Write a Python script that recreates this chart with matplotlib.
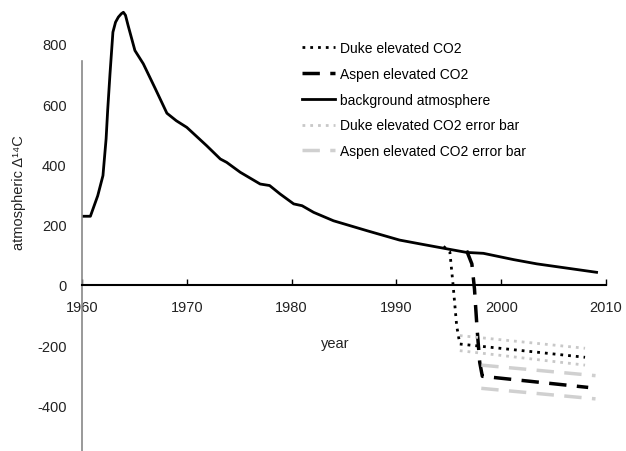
import matplotlib
matplotlib.use("Agg")
import matplotlib.pyplot as plt

plt.rcParams["font.family"] = ["Liberation Sans", "DejaVu Sans"]
plt.rcParams["axes.unicode_minus"] = False

# background atmosphere
bg_years = [1960, 1960.8, 1961.5, 1962.0, 1962.3, 1962.45, 1962.67, 1962.95, 1963.2,
            1963.47, 1963.75, 1963.95, 1964.15, 1964.4, 1965.05, 1965.85, 1967.0,
            1968.1, 1969.0, 1970.0, 1971.9, 1973.2, 1973.8, 1975.1, 1977.0, 1977.9,
            1978.9, 1980.2, 1981.0, 1982.1, 1984.0, 1987.2, 1990.3, 1992.3, 1994.8,
            1996.7, 1998.3, 2001.2, 2003.4, 2009.1]
bg_vals = [228, 228, 296, 363, 485, 580, 700, 839, 872,
           889, 900, 905, 895, 861, 778, 734, 651,
           570, 545, 523, 462, 418, 407, 374, 335, 330,
           302, 269, 263, 241, 213, 180, 149, 136, 120,
           108, 105, 84, 70, 42]

# Duke elevated CO2
duke_years = [1994.5, 1995.1, 1995.4, 1995.75, 1996.05, 2008.0]
duke_vals = [128, 110, 3, -135, -196, -240]
duke_err_years = [1996.05, 2008.0]
duke_err_hi = [-168, -210]
duke_err_lo = [-218, -266]

# Aspen elevated CO2
aspen_years = [1996.7, 1997.2, 1997.45, 1997.7, 1997.95, 1998.2, 2008.3]
aspen_vals = [114, 70, -13, -146, -257, -303, -340]
aspen_err_years = [1998.1, 2009.0]
aspen_err_hi = [-266, -301]
aspen_err_lo = [-343, -378]

fig = plt.figure(figsize=(6.26, 4.52), dpi=100)
ax = fig.add_axes([82 / 626, 0, 524 / 626, 1])
ax.set_xlim(1960, 2010)
ax.set_ylim(-551, 949)

ax.plot(duke_years, duke_vals, color="black", lw=2, linestyle=(0, (1, 1.8)),
        label="Duke elevated CO2")
ax.plot(aspen_years, aspen_vals, color="black", lw=2.5, linestyle=(0, (5, 3)),
        label="Aspen elevated CO2")
ax.plot(bg_years, bg_vals, color="black", lw=2, label="background atmosphere")
ax.plot(duke_err_years, duke_err_hi, color="#c8c8c8", lw=2, linestyle=(0, (1, 1.8)),
        label="Duke elevated CO2 error bar")
ax.plot(aspen_err_years, aspen_err_hi, color="#d0d0d0", lw=2.5, linestyle=(0, (5, 3)),
        label="Aspen elevated CO2 error bar")
ax.plot(duke_err_years, duke_err_lo, color="#c8c8c8", lw=2, linestyle=(0, (1, 1.8)))
ax.plot(aspen_err_years, aspen_err_lo, color="#d0d0d0", lw=2.5, linestyle=(0, (5, 3)))

# spines
ax.spines["top"].set_visible(False)
ax.spines["right"].set_visible(False)
ax.spines["bottom"].set_position(("data", 0))
ax.spines["bottom"].set_linewidth(1.5)
ax.spines["bottom"].set_color("black")
ax.spines["left"].set_color("#888888")
ax.spines["left"].set_linewidth(1.2)
ax.spines["left"].set_bounds(-551, 743)

ax.set_xticks([1960, 1970, 1980, 1990, 2000, 2010])
ax.set_yticks([-400, -200, 0, 200, 400, 600, 800])
ax.tick_params(axis="x", direction="in", length=4, width=1, pad=11,
               labelsize=10.5, colors="black", labelcolor="#222222")
ax.tick_params(axis="y", length=0, pad=11, labelsize=10.5, labelcolor="#222222")
ax.patch.set_visible(False)

ax.set_xlabel("year", fontsize=10.5, color="#222222")
ax.xaxis.set_label_coords((335 - 82) / 524, 1 - 337 / 452)
ax.set_ylabel("atmospheric \u0394\u00b9\u2074C", fontsize=10.5, color="#222222")
ax.yaxis.set_label_coords(-(82 - 26) / 524, 1 - 193 / 452)

ax.legend(loc="upper left", bbox_to_anchor=(302 / 626, 1 - 42 / 452),
          bbox_transform=fig.transFigure, frameon=False, fontsize=10,
          handlelength=2.4, handletextpad=0.35, labelspacing=0.85,
          borderaxespad=0, borderpad=0)

fig.savefig("out.png", dpi=100)
